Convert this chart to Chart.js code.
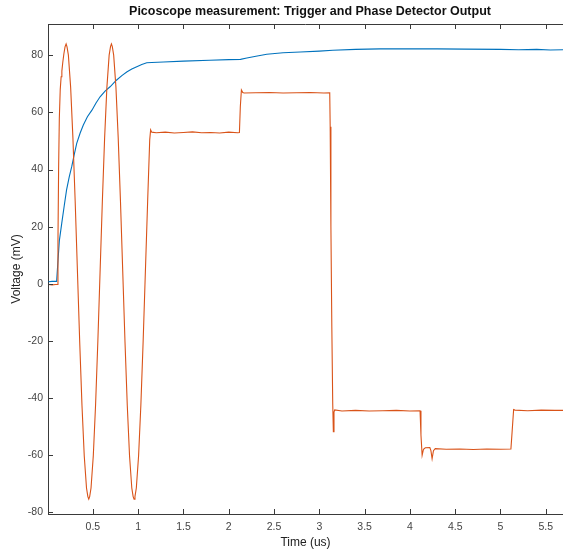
<!DOCTYPE html>
<html>
<head>
<meta charset="utf-8">
<title>Picoscope measurement</title>
<script src="https://cdn.jsdelivr.net/npm/chart.js@4/dist/chart.umd.min.js"></script>
<style>
  html, body { margin: 0; padding: 0; background: #fff; }
  #wrap { width: 563px; height: 552px; }
</style>
</head>
<body>
<div id="wrap"><canvas id="scope" width="563" height="552"></canvas></div>
<script>
// ── Data (time in us, voltage in mV) ──

var triggerTime = [0.01, 0.05, 0.10, 0.115, 0.13, 0.157, 0.185, 0.21, 0.24, 0.267, 0.295, 0.322,
  0.36, 0.395, 0.44, 0.49, 0.535, 0.58, 0.635, 0.69, 0.76, 0.82, 0.874, 0.93, 0.985, 1.04,
  1.095, 1.15, 1.28, 1.5, 1.79, 2.0, 2.13, 2.2, 2.3, 2.42, 2.6, 2.79, 3.0, 3.15, 3.4, 3.67,
  4.0, 4.3, 4.6, 5.0, 5.2, 5.4, 5.55, 5.69];
var triggerVolts = [0.7, 0.8, 0.8, 8, 15, 21.2, 27.5, 32.9, 37.5, 41, 45.3, 49.2,
  52.8, 55.6, 58.5, 60.8, 63.3, 65.5, 67.5, 69, 71.3, 72.9, 74.2, 75.2, 76, 76.8,
  77.4, 77.5, 77.7, 78.0, 78.3, 78.5, 78.6, 79.1, 79.7, 80.4, 80.9, 81.2, 81.5, 81.8, 82.1, 82.3,
  82.3, 82.3, 82.2, 82.1, 82.0, 82.1, 81.9, 82.0];

var phaseTime = [0.01, 0.05, 0.09, 0.108, 0.115, 0.122, 0.13, 0.14, 0.15, 0.158, 0.168, 0.18, 0.193,
  0.205, 0.215, 0.23, 0.255, 0.28, 0.305, 0.33, 0.355, 0.38, 0.405, 0.43, 0.445, 0.455, 0.465,
  0.48, 0.505, 0.53, 0.555, 0.58, 0.605, 0.63, 0.655, 0.68, 0.695, 0.705, 0.715, 0.73, 0.755,
  0.78, 0.805, 0.83, 0.855, 0.88, 0.905, 0.93, 0.945, 0.955, 0.965, 0.98, 1.005, 1.03, 1.055,
  1.08, 1.105, 1.128, 1.138, 1.15, 1.2, 1.3, 1.4, 1.5, 1.6, 1.7, 1.8, 1.9, 2.0, 2.1, 2.118,
  2.128, 2.14, 2.155, 2.17, 2.3, 2.45, 2.6, 2.75, 2.9, 3.05, 3.115, 3.12, 3.128, 3.138, 3.148,
  3.155, 3.162, 3.17, 3.25, 3.4, 3.55, 3.7, 3.85, 4.0, 4.112, 4.122, 4.135, 4.15, 4.17, 4.22,
  4.232, 4.245, 4.26, 4.28, 4.4, 4.55, 4.7, 4.85, 5.0, 5.115, 5.128, 5.145, 5.16, 5.3, 5.45,
  5.6, 5.69];
var phaseVolts = [-0.3, -0.4, -0.3, -0.3, 15, 40, 58, 68, 72.5, 74.5, 77.5, 80.5, 83,
  84, 83, 80.1, 68.8, 51.1, 28.9, 4.3, -20.4, -42.6, -60.3, -71.6, -74.6, -75.5, -74.6,
  -71.6, -60.3, -42.6, -20.4, 4.3, 28.9, 51.1, 68.8, 80.1, 83.1, 84, 83.1, 80.1, 68.8,
  51.1, 28.9, 4.3, -20.4, -42.6, -60.3, -71.6, -74.6, -75.5, -74.6, -71.6, -60.3, -42.6, -20.4,
  4.3, 28.9, 50.5, 53.9, 53.1, 52.9, 53.1, 52.8, 53.0, 53.2, 52.9, 53.0, 52.8, 53.1, 52.9, 53.0,
  62, 67.9, 67.0, 66.8, 66.9, 67.0, 66.8, 66.9, 67.0, 66.8, 66.9, 55, 20, -15, -42,
  -51.9, -45, -44.2, -44.6, -44.4, -44.6, -44.5, -44.4, -44.6, -44.5, -53, -60.1, -58, -57.5, -57.4,
  -58.5, -61.3, -58.5, -57.8, -58.0, -57.9, -58.1, -57.9, -58.0, -57.9, -52, -44.1, -44.3, -44.5, -44.3,
  -44.4, -44.4];

var xTicks = [0.5, 1, 1.5, 2, 2.5, 3, 3.5, 4, 4.5, 5, 5.5];
var yTicks = [-80, -60, -40, -20, 0, 20, 40, 60, 80];

function pairs(ts, vs) {
  return ts.map(function (t, i) { return { x: t, y: vs[i] }; });
}

// ── MATLAB-ish axes: inward ticks, top box line, title over the axes ──

var AXIS_COLOR = "#3a3a3a";
var TICK_LEN = 5;

var matlabAxes = {
  id: "matlabAxes",
  afterDraw: function (chart) {
    var ctx = chart.ctx;
    var area = chart.chartArea;
    var xs = chart.scales.x;
    var ys = chart.scales.y;
    ctx.save();
    ctx.strokeStyle = AXIS_COLOR;
    ctx.lineWidth = 1;
    ctx.beginPath();
    // top box line
    ctx.moveTo(area.left, area.top + 0.5);
    ctx.lineTo(area.right, area.top + 0.5);
    xTicks.forEach(function (v) {
      var px = Math.round(xs.getPixelForValue(v)) + 0.5;
      ctx.moveTo(px, area.bottom);
      ctx.lineTo(px, area.bottom - TICK_LEN);
      ctx.moveTo(px, area.top);
      ctx.lineTo(px, area.top + TICK_LEN);
    });
    yTicks.forEach(function (v) {
      var py = Math.round(ys.getPixelForValue(v)) + 0.5;
      ctx.moveTo(area.left, py);
      ctx.lineTo(area.left + TICK_LEN, py);
    });
    ctx.stroke();

    ctx.fillStyle = "#111";
    ctx.font = "bold 12.5px 'Liberation Sans', Arial, sans-serif";
    ctx.textAlign = "center";
    ctx.textBaseline = "middle";
    ctx.fillText("Picoscope measurement: Trigger and Phase Detector Output", 310, 12);
    ctx.restore();
  },
};

var tickFont = { family: "'Liberation Sans', Arial, sans-serif", size: 10.5 };
var labelFont = { family: "'Liberation Sans', Arial, sans-serif", size: 12 };

new Chart(document.getElementById("scope").getContext("2d"), {
  type: "line",
  data: {
    datasets: [
      {
        label: "Phase detector",
        data: pairs(phaseTime, phaseVolts),
        borderColor: "#D95319",
        borderWidth: 1.1,
        pointRadius: 0,
        tension: 0,
        order: 0,
      },
      {
        label: "Trigger",
        data: pairs(triggerTime, triggerVolts),
        borderColor: "#0072BD",
        borderWidth: 1.1,
        pointRadius: 0,
        tension: 0,
        order: 1,
      },
    ],
  },
  options: {
    responsive: false,
    animation: false,
    layout: { padding: { top: 24, right: 0, left: 0, bottom: 0 } },
    plugins: {
      legend: { display: false },
      tooltip: { enabled: false },
      title: { display: false },
    },
    scales: {
      x: {
        type: "linear",
        min: 0.005,
        max: 5.69,
        afterFit: function (s) { s.height = 38; },
        afterBuildTicks: function (s) { s.ticks = xTicks.map(function (v) { return { value: v }; }); },
        grid: { display: false, drawTicks: false },
        border: { display: true, color: AXIS_COLOR, width: 1 },
        ticks: {
          padding: 7,
          color: "#444",
          font: tickFont,
          maxRotation: 0,
          autoSkip: false,
          callback: function (v) { return String(v); },
        },
        title: {
          display: true,
          text: "Time (us)",
          color: "#222",
          font: labelFont,
          padding: { top: 0, bottom: 2 },
        },
      },
      y: {
        type: "linear",
        min: -80.7,
        max: 91,
        afterFit: function (s) { s.width = 48; },
        afterBuildTicks: function (s) { s.ticks = yTicks.map(function (v) { return { value: v }; }); },
        grid: { display: false, drawTicks: false },
        border: { display: true, color: AXIS_COLOR, width: 1 },
        ticks: {
          padding: 5,
          color: "#444",
          font: tickFont,
          autoSkip: false,
          callback: function (v) { return String(v); },
        },
        title: {
          display: true,
          text: "Voltage (mV)",
          color: "#222",
          font: labelFont,
          padding: { top: 9, bottom: 0 },
        },
      },
    },
  },
  plugins: [matlabAxes],
});
</script>
</body>
</html>
